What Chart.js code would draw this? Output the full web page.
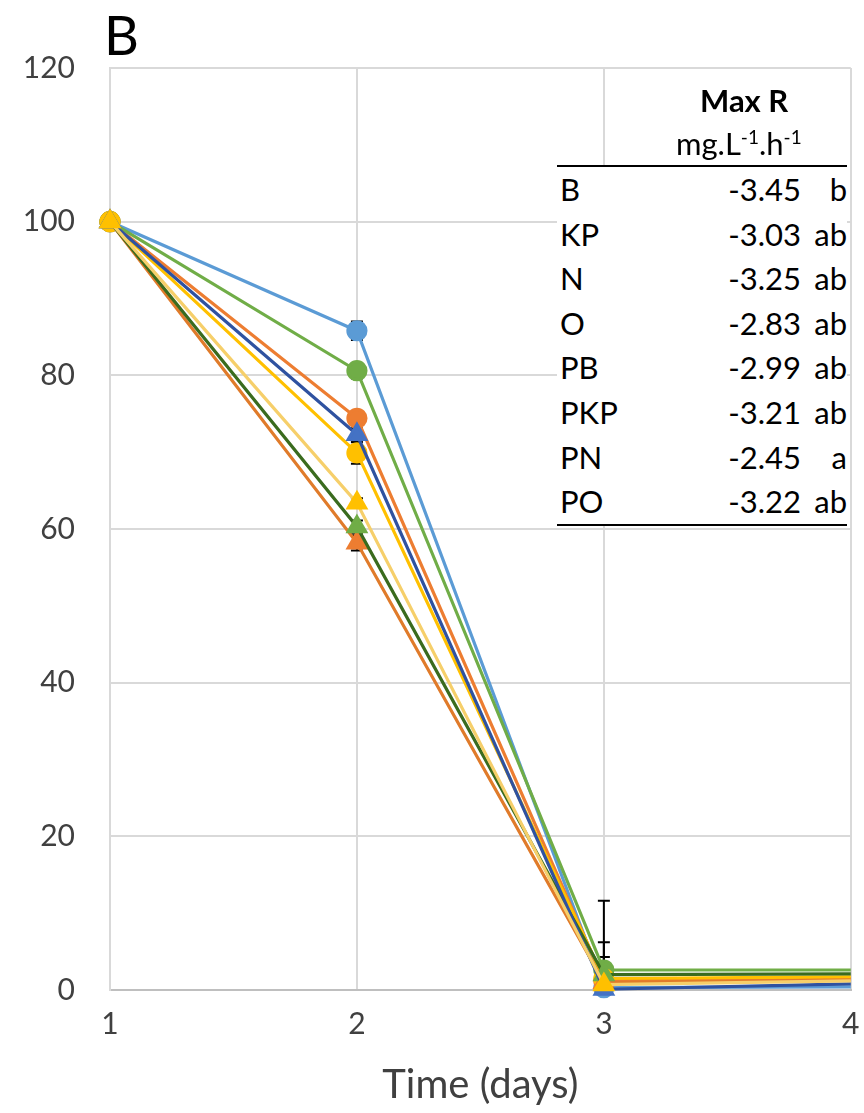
<!DOCTYPE html>
<html>
<head>
<meta charset="utf-8">
<script src="https://cdn.jsdelivr.net/npm/chart.js@4.4.0/dist/chart.umd.min.js"></script>
<style>
  body { margin: 0; background: #fff; font-family: Lato, sans-serif; }
  #wrap { position: relative; width: 864px; height: 1113px; }
  #panel { position: absolute; left: 104px; top: 2px; font-size: 54px; color: #000; }
  .hdr { position: absolute; color: #000; font-size: 31px; }
  #maxr { left: 700px; top: 81px; font-weight: bold; }
  #unit { left: 676px; top: 124px; }
  #unit sup { font-size: 19px; }
  #tbl { position: absolute; left: 557px; top: 165px; width: 290px; background: #fff;
         border-top: 2px solid #000; border-bottom: 2px solid #000; }
  .row { position: relative; height: 44.6px; font-size: 31px; line-height: 44.6px; color: #000; }
  .row .lab { position: absolute; left: 3px; }
  .row .val { position: absolute; right: 46px; }
  .row .let { position: absolute; right: 0; }
</style>
</head>
<body>
<div id="wrap">
  <canvas id="chart" width="864" height="1113"></canvas>
  <div id="panel">B</div>
  <div class="hdr" id="maxr">Max R</div>
  <div class="hdr" id="unit">mg.L<sup>-1</sup>.h<sup>-1</sup></div>
  <div id="tbl"></div>
</div>
<script>
// sampling days
const days = [1, 2, 3, 4];

// remaining concentration per treatment
const B   = [100, 85.8, 0.3, 0.4];
const KP  = [100, 74.4, 1.2, 1.5];
const N   = [100, 69.9, 1.5, 1.7];
const O   = [100, 80.6, 2.6, 2.6];
const PB  = [100, 72.3, 0.1, 0.8];
const PKP = [100, 58.2, 1.0, 1.3];
const PN  = [100, 63.4, 0.7, 1.2];
const PO  = [100, 60.3, 2.0, 2.1];

// standard errors
const errB   = [0, 1.2, 0, 0];
const errKP  = [0, 0.8, 0, 0];
const errN   = [0, 1.4, 2.8, 0];
const errO   = [0, 1.0, 9.0, 0];
const errPB  = [0, 0.8, 0, 0];
const errPKP = [0, 1.0, 0, 0];
const errPN  = [0, 0.6, 0, 0];
const errPO  = [0, 0.8, 4.2, 0];

// max rate table
const treatments = ['B', 'KP', 'N', 'O', 'PB', 'PKP', 'PN', 'PO'];
const maxRate    = ['-3.45', '-3.03', '-3.25', '-2.83', '-2.99', '-3.21', '-2.45', '-3.22'];
const groups     = ['b', 'ab', 'ab', 'ab', 'ab', 'ab', 'a', 'ab'];

const yTicks = [0, 20, 40, 60, 80, 100, 120];

document.getElementById('tbl').innerHTML = treatments.map((t, i) => `
  <div class="row"><span class="lab">${t}</span><span class="val">${maxRate[i]}</span><span class="let">${groups[i]}</span></div>
`).join('');

function series(label, vals, errs, line, fill, shape) {
    return {
        label: label,
        data: days.map((d, i) => ({ x: d, y: vals[i] })),
        errors: errs,
        borderColor: line,
        backgroundColor: fill,
        pointBackgroundColor: fill,
        pointBorderColor: fill,
        pointStyle: shape,
        pointRadius: days.map((d, i) => i === days.length - 1 ? 0 : (shape === 'triangle' ? 10 : 9)),
        borderWidth: 3.2,
        tension: 0
    };
}

// vertical error bars with caps, drawn under the markers
const errorBars = {
    id: 'errorBars',
    beforeDatasetsDraw(chart) {
        const ctx = chart.ctx;
        const xs = chart.scales.x, ys = chart.scales.y;
        ctx.save();
        ctx.strokeStyle = '#000';
        ctx.lineWidth = 2;
        chart.data.datasets.forEach(ds => {
            ds.data.forEach((p, i) => {
                const e = ds.errors[i];
                if (!e) return;
                const x = xs.getPixelForValue(p.x);
                const top = ys.getPixelForValue(p.y + e);
                const bot = ys.getPixelForValue(Math.max(p.y - e, 0));
                ctx.beginPath();
                ctx.moveTo(x, top); ctx.lineTo(x, bot);
                ctx.moveTo(x - 6, top); ctx.lineTo(x + 6, top);
                ctx.moveTo(x - 6, bot); ctx.lineTo(x + 6, bot);
                ctx.stroke();
            });
        });
        ctx.restore();
    }
};

// first dataset ends up on top
new Chart(document.getElementById('chart'), {
    type: 'line',
    data: {
        datasets: [
            series('PN', PN, errPN, '#F6CF6A', '#FFC000', 'triangle'),
            series('PB', PB, errPB, '#2F52A0', '#4472C4', 'triangle'),
            series('PO', PO, errPO, '#3A6B1E', '#70AD47', 'triangle'),
            series('PKP', PKP, errPKP, '#E07B2A', '#ED7D31', 'triangle'),
            series('N', N, errN, '#FFC000', '#FFC000', 'circle'),
            series('O', O, errO, '#70AD47', '#70AD47', 'circle'),
            series('KP', KP, errKP, '#ED7D31', '#ED7D31', 'circle'),
            series('B', B, errB, '#5B9BD5', '#5B9BD5', 'circle')
        ]
    },
    options: {
        responsive: false,
        animation: false,
        clip: false,
        layout: { padding: { top: 68, right: 2, left: 0, bottom: 0 } },
        plugins: { legend: { display: false }, tooltip: { enabled: false } },
        scales: {
            x: {
                type: 'linear',
                min: 1, max: 4,
                ticks: { stepSize: 1, padding: 16, color: '#404040', font: { family: 'Lato', size: 30 } },
                grid: { color: '#D9D9D9', lineWidth: 2, drawTicks: false },
                border: { color: '#BFBFBF', width: 2 },
                title: { display: true, text: 'Time (days)', color: '#404040', font: { family: 'Lato', size: 40 }, padding: { top: 8 } },
                afterFit(scale) {
                    scale.height = 123;
                    scale.paddingRight = 12;
                    scale.paddingLeft = 0;
                }
            },
            y: {
                min: 0, max: 120,
                afterBuildTicks(scale) { scale.ticks = yTicks.map(v => ({ value: v })); },
                ticks: { padding: 35, color: '#404040', font: { family: 'Lato', size: 30 } },
                grid: { color: '#D9D9D9', lineWidth: 2, drawTicks: false },
                border: { color: '#D9D9D9', width: 2 },
                afterFit(scale) { scale.width = 110; }
            }
        }
    },
    plugins: [errorBars]
});
</script>
</body>
</html>
